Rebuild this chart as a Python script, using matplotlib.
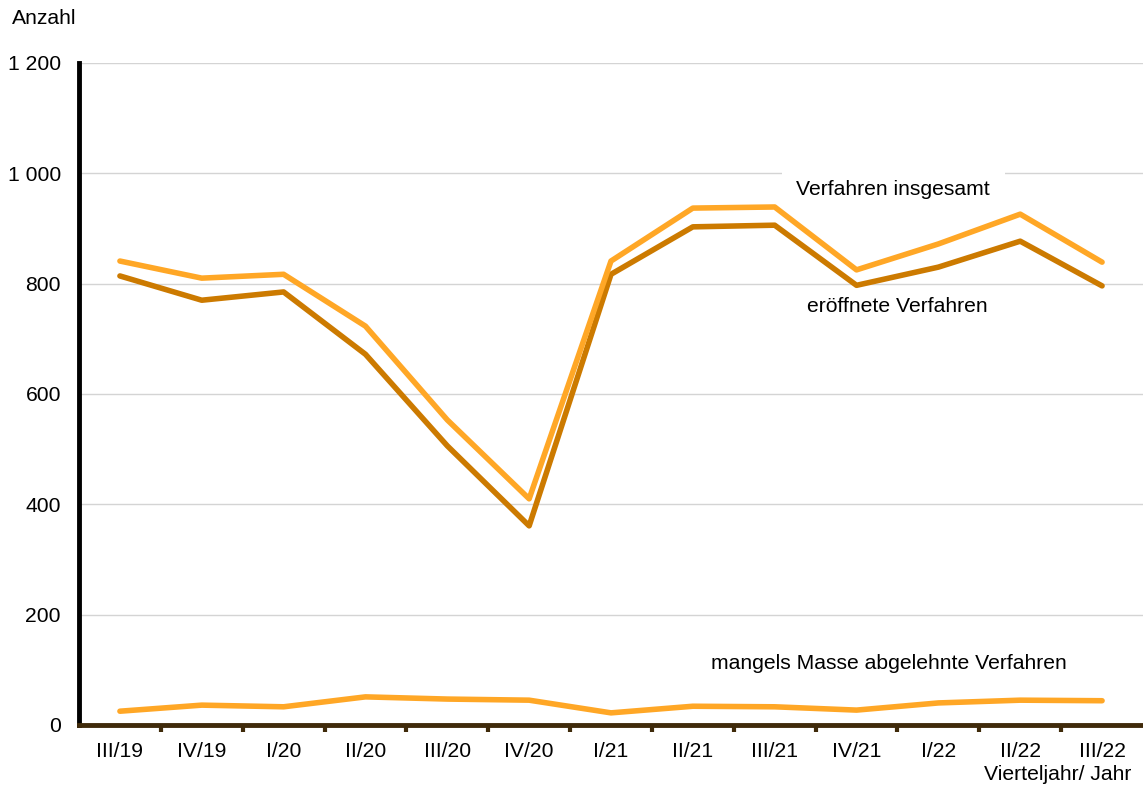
import matplotlib
matplotlib.use("Agg")
import matplotlib.pyplot as plt
from matplotlib.ticker import FuncFormatter, FixedLocator

quarters = ["III/19", "IV/19", "I/20", "II/20", "III/20", "IV/20", "I/21",
            "II/21", "III/21", "IV/21", "I/22", "II/22", "III/22"]
insgesamt = [841, 810, 817, 723, 553, 410, 841, 937, 939, 825, 872, 926, 839]
eroeffnet = [814, 770, 785, 672, 506, 361, 817, 903, 906, 797, 830, 877, 796]
mangels = [25, 36, 33, 51, 47, 45, 22, 34, 33, 27, 40, 45, 44]

LIGHT = "#ffa726"
DARK = "#cc7a00"
AXIS_BROWN = "#3f2a0a"
FS = 15.2

plt.rcParams["font.family"] = ["Liberation Sans", "DejaVu Sans"]

fig = plt.figure(figsize=(11.43, 7.89), dpi=100)
ax = fig.add_axes([79 / 1143, 64 / 789, 1 - 79 / 1143, (725 - 63) / 789])

x = list(range(len(quarters)))
ax.plot(x, mangels, color=LIGHT, lw=4, solid_capstyle="round", zorder=3)
ax.plot(x, eroeffnet, color=DARK, lw=4, solid_capstyle="round", zorder=3)
ax.plot(x, insgesamt, color=LIGHT, lw=4, solid_capstyle="round", zorder=4)

ax.set_xlim(-0.5, len(quarters) - 0.5)
ax.set_ylim(0, 1200)
ax.set_yticks(range(0, 1201, 200))
ax.yaxis.set_major_formatter(FuncFormatter(lambda v, p: f"{int(v):,}".replace(",", " ")))
ax.yaxis.grid(True, color="#d4d4d4", lw=1)
ax.set_axisbelow(True)

ax.set_xticks(x)
ax.set_xticklabels(quarters)
ax.xaxis.set_minor_locator(FixedLocator([i + 0.5 for i in x[:-1]]))
ax.tick_params(axis="x", which="major", length=0, pad=12, labelsize=FS)
ax.tick_params(axis="x", which="minor", length=5, width=3, color=AXIS_BROWN)
ax.tick_params(axis="y", length=0, pad=13, labelsize=FS)

for s in ("top", "right"):
    ax.spines[s].set_visible(False)
ax.spines["left"].set_linewidth(3.5)
ax.spines["left"].set_color("black")
ax.spines["bottom"].set_linewidth(3.5)
ax.spines["bottom"].set_color(AXIS_BROWN)
ax.spines["bottom"].set_zorder(5)

ax.text(9.45, 970, "Verfahren insgesamt", ha="center", va="center", fontsize=FS,
        bbox=dict(boxstyle="square,pad=0.7", fc="white", ec="none"), zorder=2)
ax.text(9.5, 758, "eröffnete Verfahren", ha="center", va="center", fontsize=FS)
ax.text(9.4, 112, "mangels Masse abgelehnte Verfahren", ha="center", va="center",
        fontsize=FS)

fig.text(12 / 1143, 1 - 18 / 789, "Anzahl", ha="left", va="center", fontsize=FS)
fig.text(1131 / 1143, 1 - 775 / 789, "Vierteljahr/ Jahr", ha="right", va="center",
         fontsize=FS)

fig.savefig("out.png", dpi=100)
